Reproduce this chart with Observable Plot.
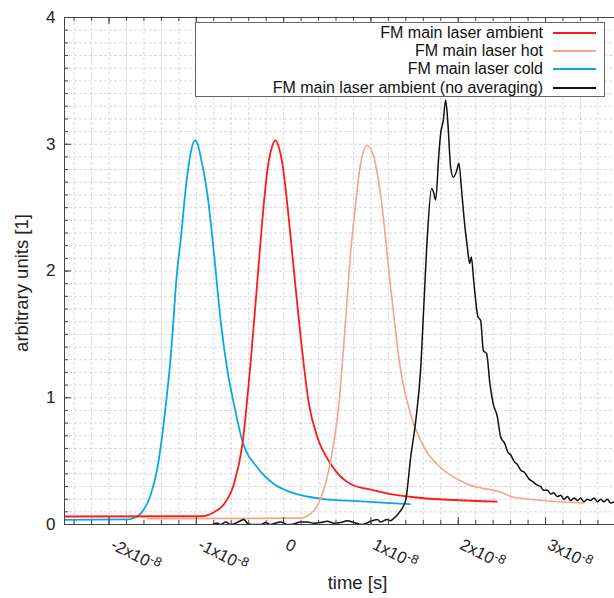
<!DOCTYPE html>
<html><head><meta charset="utf-8">
<script src="https://cdn.jsdelivr.net/npm/d3@7"></script>
<script src="https://cdn.jsdelivr.net/npm/@observablehq/plot@0.6"></script>
<style>
body{margin:0;background:#fff;font-family:"Liberation Sans",Arial,sans-serif;}
#wrap{position:relative;width:614px;height:598px;overflow:hidden;background:#fff;}
#legend{position:absolute;left:195px;top:22px;width:410px;height:75px;border:1px solid #666;background:#fff;box-sizing:border-box;font-size:16px;color:#111;}
.row{position:absolute;right:8px;height:18px;display:flex;align-items:center;white-space:nowrap;}
.row .sw{display:inline-block;width:43px;height:0;margin-left:10px;}
</style>
</head><body>
<div id="wrap"><div id="chart"></div><div id="legend"></div></div>
<script>
// time in ns, value in arbitrary units
const seriesNames = ["FM main laser ambient","FM main laser hot","FM main laser cold","FM main laser ambient (no averaging)"];
const seriesColors = ["#ff1a1a","#f7a38c","#0aa6e8","#111111"];

const tAmbient = [-25.2,-9.5,-7.98,-6.84,-5.69,-4.73,-3.78,-3.01,-2.44,-1.87,-1.37,-0.92,-0.57,-0.15,0.61,1.37,1.95,2.9,3.86,5.38,7.67,10.34,12.26,14.93,24.4];
const vAmbient = [0.063,0.065,0.097,0.16,0.32,0.63,1.28,1.92,2.4,2.79,2.97,3.03,2.98,2.85,2.4,1.87,1.48,0.95,0.69,0.48,0.32,0.27,0.24,0.215,0.18];

const tHot = [-15.6,1.95,3.47,4.43,5.38,6.33,7.1,7.67,8.25,8.82,9.59,10.34,11.11,12.26,13.4,14.55,16.07,17.98,21.04,24.86,26.38,34.4];
const vHot = [0.045,0.05,0.11,0.24,0.5,0.95,1.61,2.14,2.53,2.85,2.99,2.9,2.6,1.87,1.22,0.87,0.61,0.45,0.32,0.255,0.215,0.17];

const tCold = [-25.2,-17.9,-17.2,-16.4,-15.2,-14.5,-13.7,-12.9,-12.2,-11.8,-11.2,-10.65,-10.16,-9.85,-9.5,-8.74,-7.98,-7.22,-6.45,-5.69,-4.73,-3.01,-1.11,0.8,4.62,8.44,12.26,14.47];
const vCold = [0.037,0.04,0.05,0.084,0.24,0.43,0.82,1.35,2.0,2.24,2.66,2.93,3.03,3.0,2.9,2.61,2.14,1.61,1.22,0.95,0.66,0.45,0.32,0.255,0.2,0.184,0.168,0.16];

const tRaw = [-8.17,-7.6,-7.2,-6.64,-6.07,-5.5,-4.93,-4.55,-4.16,-3.59,-2.63,-2.06,-1.49,-0.92,-0.34,0.42,1.18,1.95,2.71,3.47,4.24,5.0,5.76,6.53,7.3,8.05,9.0,9.77,10.73,11.11,11.88,12.26,12.63,13.4,13.98,14.55,15.12,15.69,16.07,16.46,16.95,17.18,17.41,17.79,17.98,18.29,18.56,18.82,19.13,19.44,19.82,20.08,20.36,20.66,21.04,21.31,21.5,21.8,22.26,22.57,22.88,23.25,23.63,24.02,24.48,24.86,25.32,25.69,26.0,26.38,26.8,27.15,27.6,28.1,28.5,29.05,29.44,29.78,30.2,30.6,30.93,31.35,31.73,32.11,32.5,32.88,33.26,33.68,34.02,34.4,34.82,35.17,35.55,35.97,36.31,36.69,37.08,37.46,37.92];
const vRaw = [0.0,0.01,0.0,0.02,0.0,0.01,0.03,0.04,0.01,0.0,0.0,0.015,0.0,0.012,0.02,0.0,0.005,0.02,0.02,0.01,0.015,0.025,0.01,0.015,0.03,0.015,0.0,0.02,0.04,0.02,0.04,0.03,0.05,0.11,0.19,0.53,0.81,1.22,1.74,2.27,2.65,2.62,2.56,2.93,3.08,3.19,3.35,3.16,2.82,2.74,2.79,2.85,2.66,2.42,2.19,2.06,2.11,1.9,1.64,1.61,1.37,1.35,1.11,0.95,0.85,0.69,0.64,0.57,0.55,0.5,0.47,0.43,0.41,0.36,0.34,0.31,0.3,0.27,0.27,0.24,0.25,0.22,0.23,0.2,0.22,0.19,0.21,0.19,0.21,0.18,0.2,0.19,0.21,0.18,0.2,0.18,0.2,0.17,0.18];

const xTicks = [-2e-8,-1e-8,0,1e-8,2e-8,3e-8];
const xTickLabels = ["-2x10^-8","-1x10^-8","0","1x10^-8","2x10^-8","3x10^-8"];
const yTicks = [0,1,2,3,4];
const yTickLabels = ["0","1","2","3","4"];
const xDomain = [-25.1e-9, 37.9e-9];
const yDomain = [0, 4];

const toRows = (ts, vs, name) => ts.map((t, i) => ({t: t * 1e-9, v: vs[i], s: name}));
const sets = [toRows(tAmbient, vAmbient, seriesNames[0]), toRows(tHot, vHot, seriesNames[1]), toRows(tCold, vCold, seriesNames[2]), toRows(tRaw, vRaw, seriesNames[3])];

const W = 614, H = 598, mL = 64, mR = 0, mT = 17, mB = 74;
const innerW = W - mL - mR, innerH = H - mT - mB;
const minorX = d3.range(-24, 38, 2).map(d => d * 1e-9);
const minorY = d3.range(0, 41, 1).map(d => d / 10);
const xLab = new Map(xTicks.map((d, i) => [Math.round(d * 1e9), xTickLabels[i]]));
const axisColor = "#444";

const lineOrder = [2, 0, 1, 3];
const chart = Plot.plot({
  width: W, height: H, marginLeft: mL, marginRight: mR, marginTop: mT, marginBottom: mB,
  style: {fontFamily: "'Liberation Sans', Arial, sans-serif", fontSize: "16px", color: "#222", background: "white"},
  x: {domain: xDomain},
  y: {domain: yDomain},
  marks: [
    Plot.gridX(minorX, {stroke: "#c4c4c4", strokeOpacity: 0.65, strokeDasharray: "3,2"}),
    Plot.gridY(minorY, {stroke: "#c4c4c4", strokeOpacity: 0.65, strokeDasharray: "3,2"}),
    ...lineOrder.map(i => Plot.line(sets[i], {x: "t", y: "v", stroke: seriesColors[i], strokeWidth: i === 3 ? 1.5 : (i === 1 ? 1.6 : 1.8), curve: "monotone-x", clip: true})),
    // inward ticks
    Plot.tickX(minorX, {x: d => d, insetTop: innerH - 4, stroke: axisColor}),
    Plot.tickX(xTicks, {x: d => d, insetTop: innerH - 7, stroke: axisColor}),
    Plot.tickX(minorX, {x: d => d, insetBottom: innerH - 4, stroke: axisColor}),
    Plot.tickX(xTicks, {x: d => d, insetBottom: innerH - 7, stroke: axisColor}),
    Plot.tickY(minorY, {y: d => d, insetRight: innerW - 4, stroke: axisColor}),
    Plot.tickY(yTicks, {y: d => d, insetRight: innerW - 7, stroke: axisColor}),
    Plot.ruleY([yDomain[0]], {stroke: axisColor}),
    Plot.ruleY([yDomain[1]], {stroke: axisColor}),
    Plot.ruleX([xDomain[0]], {stroke: axisColor}),
    Plot.axisX(xTicks, {tickFormat: d => xLab.get(Math.round(d * 1e9)), tickRotate: 27, tickSize: 0, tickPadding: 19, dx: 3, label: null, fontSize: 16.5, fill: "#222"}),
    Plot.axisY(yTicks, {tickFormat: d => yTickLabels[yTicks.indexOf(d)], tickSize: 0, tickPadding: 9, label: null, fontSize: 17, fill: "#222"}),
    Plot.text(["time [s]"], {frameAnchor: "bottom", dx: 18, dy: 64, fontSize: 18.5, fill: "#222"}),
    Plot.text(["arbitrary units [1]"], {frameAnchor: "left", textAnchor: "middle", dx: -42, dy: 12, rotate: -90, fontSize: 18.5, fill: "#222"})
  ]
});
document.getElementById("chart").appendChild(chart);

// render the "^" exponent as a raised superscript
d3.select(chart).selectAll("g[aria-label='x-axis tick label'] text").each(function() {
  const s = this.textContent;
  if (!s.includes("^")) return;
  const [base, exp] = s.split("^");
  const sel = d3.select(this);
  sel.text(null);
  sel.append("tspan").text(base);
  sel.append("tspan").attr("dy", "-0.42em").attr("font-size", "0.78em").text(exp);
});

const legend = document.getElementById("legend");
const rowCenters = [9.5, 27.8, 46.1, 64.6];
seriesNames.forEach((name, i) => {
  const row = document.createElement("div");
  row.className = "row";
  row.style.top = (rowCenters[i] - 9) + "px";
  const label = document.createElement("span");
  label.textContent = name;
  const sw = document.createElement("span");
  sw.className = "sw";
  sw.style.borderTop = "2px solid " + seriesColors[i];
  row.appendChild(label); row.appendChild(sw);
  legend.appendChild(row);
});
</script>
</body></html>
